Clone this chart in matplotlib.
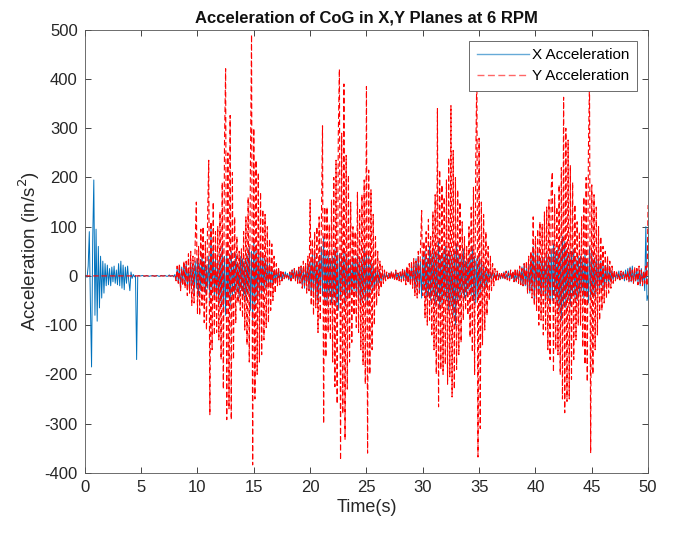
import numpy as np
import matplotlib
matplotlib.use("Agg")
import matplotlib.pyplot as plt

plt.rcParams['font.family'] = ['Liberation Sans', 'DejaVu Sans']
plt.rcParams['axes.unicode_minus'] = False

# ── data, one row per second (10 samples, dt = 0.1 s) ──
x_acc = [
    0, 1, -3, 20, 90, -60, -185, 70, 195, -80,
    95, -92, 60, -65, 40, -45, 30, -35, 25, -20,
    22, -18, 15, -20, 18, -12, 20, -15, 12, -18,
    25, -20, 30, -25, 22, -28, 18, -15, 20, -10,
    -30, 8, -5, 3, -2, 1, -170, 0, 1, 0,
    0, 1, 0, -1, 0, 1, 0, -1, 0, 0,
    1, 0, -1, 0, 1, 0, -1, 0, 1, 0,
    0, 1, 0, -1, 0, 2, -1, 0, 1, -2,
    3, -8, 15, -12, 20, -25, 18, -10, 22, -15,
    25, -20, 15, -30, 28, -18, 20, -35, 30, -25,
    35, -40, 25, -30, 45, -20, 30, -35, 20, -25,
    40, -50, 100, -30, 55, -45, 35, -40, 30, -60,
    45, -55, 60, -70, 40, -80, 50, -45, 35, -60,
    50, -40, 30, -35, 45, -30, 25, -45, 40, -30,
    35, -40, 30, -50, 45, -35, 60, -70, 50, -90,
    70, -60, 55, -50, 45, -40, 50, -35, 40, -30,
    35, -25, 30, -20, 25, -20, 15, -18, 12, -10,
    10, -8, 12, -6, 8, -10, 6, -5, 8, -4,
    5, -8, 6, -10, 12, -5, 15, -8, 10, -12,
    15, -10, 20, -18, 12, -25, 20, -15, 25, -30,
    30, -40, 45, -35, 50, -45, 30, -55, 40, -35,
    60, -40, 80, -50, 45, -60, 50, -40, 35, -55,
    40, -45, 55, -60, 50, -70, 45, -50, 40, -35,
    50, -60, 45, -40, 35, -45, 30, -35, 40, -30,
    35, -40, 45, -50, 30, -55, 40, -45, 60, -50,
    45, -60, 40, -35, 30, -25, 20, -30, 15, -20,
    12, -15, 8, -10, 6, -8, 5, -4, 3, -5,
    6, -3, 8, -5, 4, -6, 10, -4, 5, -8,
    8, -6, 10, -8, 12, -10, 15, -12, 10, -15,
    20, -15, 25, -30, 35, -20, 40, -35, 30, -45,
    40, -30, 50, -45, 35, -40, 60, -50, 45, -40,
    55, -60, 45, -50, 70, -65, 40, -55, 50, -45,
    60, -50, 45, -70, 55, -60, 40, -80, 50, -100,
    65, -55, 45, -50, 40, -35, 55, -45, 30, -40,
    35, -30, 45, -40, 60, -50, 40, -55, 35, -45,
    40, -35, 30, -25, 20, -30, 15, -20, 12, -10,
    8, -6, 10, -5, 4, -8, 6, -3, 5, -6,
    4, -5, 8, -6, 3, -4, 10, -8, 6, -5,
    8, -10, 6, -12, 10, -8, 12, -15, 18, -20,
    25, -20, 15, -30, 25, -35, 40, -25, 60, -50,
    45, -40, 55, -35, 30, -45, 40, -30, 35, -50,
    50, -45, 40, -60, 55, -50, 65, -40, 50, -55,
    60, -70, 55, -90, 80, -60, 70, -65, 55, -50,
    45, -60, 50, -40, 55, -45, 35, -50, 40, -35,
    40, -30, 35, -45, 50, -40, 30, -55, 60, -45,
    50, -40, 35, -45, 40, -30, 35, -25, 30, -20,
    25, -30, 20, -15, 25, -20, 15, -12, 10, -8,
    8, -6, 5, -4, 10, -8, 6, -5, 8, -10,
    12, -8, 15, -10, 18, -12, 20, -15, 12, -10,
    15, -12, 10, -20, 15, -10, 8, -30, 100, -50,
    -40,
]

y_acc = [
    0, 0, 0, 0, 0, 0, 0, 0, 0, 0,
    0, 0, 0, 0, 0, 0, 0, 0, 0, 0,
    0, 0, 0, 0, 0, 0, 0, 0, 0, 0,
    0, 0, 0, 0, 0, 0, 0, 0, 0, 0,
    0, 0, 0, 0, 0, 0, 0, 0, 0, 0,
    0, 0, 0, 0, 0, 0, 0, 0, 0, 0,
    0, 0, 0, 0, 0, 0, 0, 0, 0, 0,
    0, 0, 0, 0, 0, 0, 0, 0, 0, 0,
    2, -10, 20, -15, 25, -30, 15, -20, 30, -25,
    30, -40, 45, -35, 50, -60, 40, -55, 70, 150,
    -76, 60, -80, 95, -60, 100, -95, 70, -110, 120,
    235, -282, 110, -150, 150, -120, 90, -115, 100, -130,
    130, -170, 190, -230, 270, 421, -292, 250, -270, 326,
    -292, 210, -170, 120, -95, 80, -55, 50, -70, 55,
    -85, 90, -110, 120, -140, 160, -175, 220, 490, -384,
    300, -250, 235, -200, 210, -175, 170, -160, 135, -130,
    125, -105, 100, -95, 75, -70, 65, -50, 40, -35,
    25, -20, 15, -18, 12, -10, 8, -6, 5, -4,
    4, -6, 8, -10, 12, -8, 15, -10, 12, -15,
    18, -15, 20, -25, 30, -20, 25, -35, 40, -30,
    155, -60, 75, -80, 90, -65, 100, -115, 120, -90,
    110, 305, -300, 140, -165, 140, -115, 105, -130, 155,
    -175, 200, -225, 235, -260, 285, 420, -374, 290, -280,
    390, -333, 245, -230, 205, -175, 150, -135, 100, -80,
    90, -105, 170, -115, 135, -150, 165, -180, 195, -220,
    385, -360, 215, -200, 175, -150, 125, -100, 80, -60,
    50, -40, 30, -25, 20, -15, 12, -10, 8, -6,
    5, -8, 10, -6, 8, -10, 12, -8, 6, -10,
    8, -12, 15, -10, 12, -18, 20, -15, 25, -20,
    30, -25, 35, -40, 30, -45, 50, -35, 60, 133,
    -40, 70, -85, 90, -100, 115, -90, 80, -120, 130,
    -150, 165, -200, 340, -266, 215, -190, 185, -200, 160,
    -180, 195, -220, 240, -205, 346, -246, 255, -230, 200,
    -190, 175, -160, 150, -135, 110, -90, 80, -70, 60,
    -80, 100, -125, 140, -155, 180, -200, 235, 420, -368,
    280, -310, 150, -140, 125, -110, 90, -80, 60, -50,
    40, -30, 25, -20, 15, -12, 10, -8, 6, -5,
    5, -6, 8, -5, 10, -8, 6, -10, 12, -8,
    10, -12, 15, -10, 12, -15, 20, -18, 15, -20,
    25, -20, 30, -35, 40, -30, 50, -45, 120, -60,
    80, -70, 95, -100, 110, -90, 105, -120, 130, -110,
    140, -150, 155, -170, 180, 211, -195, 165, -150, 140,
    -160, 185, -200, 220, -250, 363, -278, 300, -255, 276,
    -250, 225, -210, 190, -170, 145, -130, 110, -100, 90,
    -100, 120, -145, 160, -180, 200, -215, 250, 400, -360,
    185, -200, 165, -150, 140, -120, 100, -90, 80, -70,
    60, -55, 50, -45, 40, -35, 30, -25, 20, -15,
    12, -10, 8, -6, 5, -8, 10, -6, 8, -5,
    6, -8, 10, -12, 15, -10, 12, -15, 18, -12,
    15, -18, 20, -15, 12, -20, 10, -15, 20, -20,
    144,
]

t = np.linspace(0, 50, len(x_acc))

# ── figure ────────────────────────────────────────────────────────────────────
TXT = '#262626'
fig = plt.figure(figsize=(6.73, 5.33), dpi=100)
ax = fig.add_axes([0.126, 0.113, 0.837, 0.831])

ax.plot(t, x_acc, color='#0072BD', lw=0.7, label='X Acceleration')
ax.plot(t, y_acc, color='#FF0000', lw=0.8, ls=(0, (5, 2.5)), label='Y Acceleration')

ax.set_xlim(0, 50)
ax.set_ylim(-400, 500)
ax.set_xticks(np.arange(0, 51, 5))
ax.set_yticks(np.arange(-400, 501, 100))
ax.tick_params(direction='in', top=True, right=True, labelsize=12,
               length=4, width=0.6, colors=TXT, pad=5)
for s in ax.spines.values():
    s.set_linewidth(0.6)
    s.set_color('#555555')

ax.set_title('Acceleration of CoG in X,Y Planes at 6 RPM',
             fontsize=12, fontweight='bold', pad=5, color='#111111')
ax.set_xlabel('Time(s)', fontsize=13, color=TXT, labelpad=3)
ax.set_ylabel('Acceleration (in/s$^2$)', fontsize=13.5, color=TXT, labelpad=2)

leg = ax.legend(loc='upper right', fontsize=11, frameon=True, fancybox=False,
                framealpha=1, edgecolor='#555555', borderaxespad=0.7,
                handlelength=3.4, handletextpad=0.25, labelspacing=0.45,
                borderpad=0.5)
leg.get_frame().set_linewidth(0.6)
for ln in leg.get_lines():
    ln.set_linewidth(1.0)
    ln.set_alpha(0.6)

fig.savefig('out.png', dpi=100)
